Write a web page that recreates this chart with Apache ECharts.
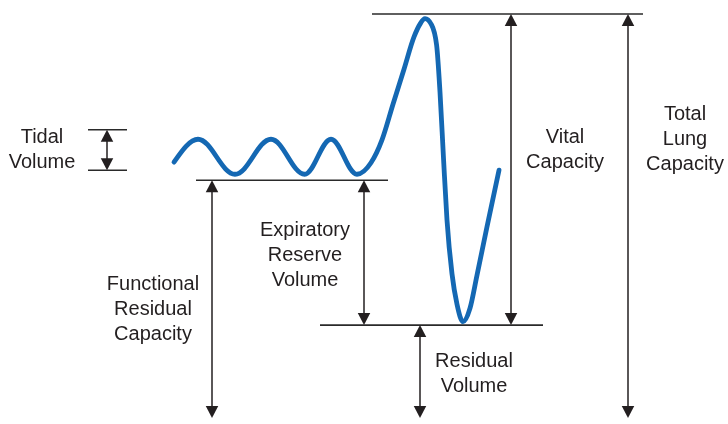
<!DOCTYPE html>
<html>
<head>
<meta charset="utf-8">
<script src="https://cdn.jsdelivr.net/npm/echarts@6/dist/echarts.min.js"></script>
<style>html,body{margin:0;padding:0;background:#fff}#c{width:728px;height:424px}</style>
</head>
<body>
<div id="c"></div>
<script>
// Spirogram trace: time (s) and lung volume (L)
const curveTime   = [8.70, 9.90, 11.75, 13.55, 15.23, 16.55, 17.85, 18.55, 19.10, 19.65, 20.20, 20.70, 21.00, 21.25, 21.58, 21.83, 22.00, 22.18, 22.35, 22.60, 22.85, 23.15, 23.50, 23.85, 24.35, 24.95];
const curveVolume = [3.80, 4.14, 3.62, 4.14, 3.62, 4.14, 3.62, 3.79, 4.13, 4.66, 5.18, 5.66, 5.85, 5.93, 5.84, 5.54, 4.84, 3.83, 2.94, 2.14, 1.69, 1.43, 1.63, 2.12, 2.84, 3.68];

// Reference level lines: start time, end time, volume
const levelStart = [4.4, 4.4, 9.8, 16.0, 18.6];
const levelEnd   = [6.35, 6.35, 19.4, 27.15, 32.15];
const levelValue = [4.28, 3.68, 3.53, 1.38, 6.0];

// Double arrows: time, upper volume, lower volume
const arrowTime   = [5.35, 10.6, 18.2, 21.0, 25.55, 31.4];
const arrowTop    = [4.28, 3.53, 3.53, 1.38, 6.0, 6.0];
const arrowBottom = [3.68, 0, 1.38, 0, 1.38, 0];

// Labels
const labelText = ['Tidal\nVolume', 'Functional\nResidual\nCapacity', 'Expiratory\nReserve\nVolume', 'Residual\nVolume', 'Vital\nCapacity', 'Total\nLung\nCapacity'];

const chart = echarts.init(document.getElementById('c'), null, {renderer: 'canvas'});
const ink = '#231f20';
const font = '20px "Liberation Sans", Arial, sans-serif';
const labelPos = [[42, 149.5], [153, 309], [305, 255], [474, 374], [565, 150], [685, 139]];

// monotone-x cubic path through pixel points; extremum-to-extremum spans use half-sine handles
function smoothPath(pts) {
  const n = pts.length;
  const sgn = v => (v < 0 ? -1 : 1);
  const tang = new Array(n);
  for (let i = 1; i < n - 1; i++) {
    const h0 = pts[i][0] - pts[i - 1][0], h1 = pts[i + 1][0] - pts[i][0];
    const s0 = (pts[i][1] - pts[i - 1][1]) / h0, s1 = (pts[i + 1][1] - pts[i][1]) / h1;
    const p = (s0 * h1 + s1 * h0) / (h0 + h1);
    tang[i] = (sgn(s0) + sgn(s1)) * Math.min(Math.abs(s0), Math.abs(s1), 0.5 * Math.abs(p)) || 0;
  }
  const h0 = pts[1][0] - pts[0][0];
  tang[0] = (3 * (pts[1][1] - pts[0][1]) / h0 - tang[1]) / 2;
  const hn = pts[n - 1][0] - pts[n - 2][0];
  tang[n - 1] = (3 * (pts[n - 1][1] - pts[n - 2][1]) / hn - tang[n - 2]) / 2;
  let d = 'M' + pts[0][0] + ' ' + pts[0][1];
  for (let i = 0; i < n - 1; i++) {
    const a = pts[i], b = pts[i + 1];
    const k = (tang[i] === 0 && tang[i + 1] === 0) ? 0.3634 : 1 / 3;
    const dx = (b[0] - a[0]) * k;
    d += ' C' + (a[0] + dx) + ' ' + (a[1] + dx * tang[i]) + ' ' + (b[0] - dx) + ' ' + (b[1] - dx * tang[i + 1]) + ' ' + b[0] + ' ' + b[1];
  }
  return d;
}

chart.setOption({
  animation: false,
  backgroundColor: '#fff',
  grid: {left: 0, right: 0, top: 14, bottom: 6, containLabel: false},
  xAxis: {type: 'value', min: 0, max: 36.4, show: false},
  yAxis: {type: 'value', min: 0, max: 6, show: false},
  series: [
    {
      type: 'custom',
      data: levelStart.map((s, i) => [s, levelEnd[i], levelValue[i]]),
      encode: {x: [0, 1], y: 2},
      renderItem: function (params, api) {
        const p1 = api.coord([api.value(0), api.value(2)]);
        const p2 = api.coord([api.value(1), api.value(2)]);
        return {type: 'line', shape: {x1: p1[0], y1: p1[1], x2: p2[0], y2: p2[1]},
          style: {stroke: '#2a2a2a', lineWidth: 1.6}};
      },
      silent: true
    },
    {
      type: 'custom',
      data: arrowTime.map((t, i) => [t, arrowTop[i], arrowBottom[i]]),
      encode: {x: 0, y: [1, 2]},
      renderItem: function (params, api) {
        const a = api.coord([api.value(0), api.value(1)]);
        const b = api.coord([api.value(0), api.value(2)]);
        const h = 12, w = 12.5, x = a[0];
        return {type: 'group', children: [
          {type: 'line', shape: {x1: x, y1: a[1] + h - 1, x2: x, y2: b[1] - h + 1}, style: {stroke: ink, lineWidth: 1.5}},
          {type: 'polygon', shape: {points: [[x, a[1]], [x - w / 2, a[1] + h], [x + w / 2, a[1] + h]]}, style: {fill: ink}},
          {type: 'polygon', shape: {points: [[x, b[1]], [x - w / 2, b[1] - h], [x + w / 2, b[1] - h]]}, style: {fill: ink}}
        ]};
      },
      silent: true
    },
    {
      type: 'custom',
      data: curveTime.map((t, i) => [t, curveVolume[i]]),
      encode: {x: 0, y: 1},
      renderItem: function (params, api) {
        if (params.dataIndex !== 0) return null;
        const pts = curveTime.map((t, i) => api.coord([t, curveVolume[i]]));
        return {type: 'path', shape: {pathData: smoothPath(pts)},
          style: {stroke: '#1468b3', lineWidth: 4.8, fill: null, lineCap: 'round', lineJoin: 'round'}};
      },
      silent: true
    }
  ],
  graphic: labelText.map((txt, i) => ({
    type: 'text',
    x: labelPos[i][0],
    y: labelPos[i][1],
    style: {text: txt, font: font, fill: ink, align: 'center', verticalAlign: 'middle', lineHeight: 25}
  }))
});
</script>
</body>
</html>
